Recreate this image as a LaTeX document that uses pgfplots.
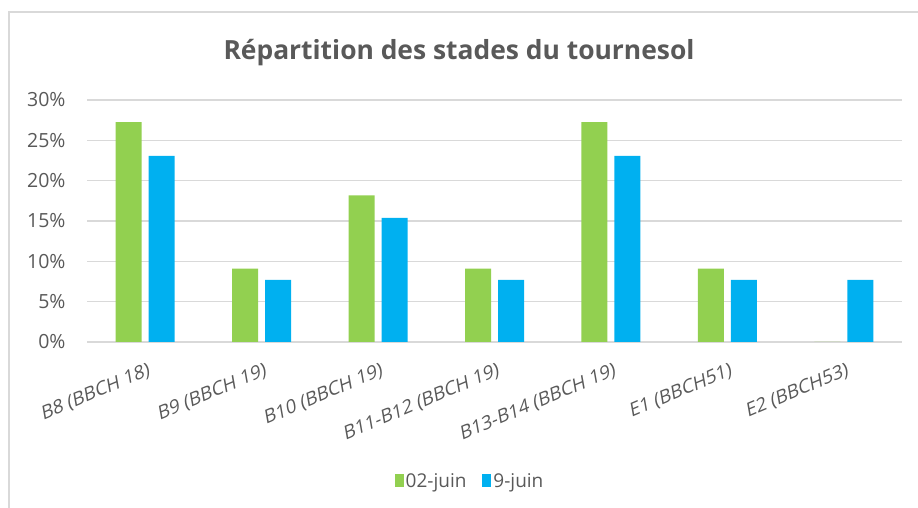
\documentclass[border=0pt]{standalone}
\usepackage{pgfplots}
\pgfplotsset{compat=1.18}
\usepackage{fontspec}
\setmainfont{Open Sans}
\definecolor{cgreen}{HTML}{92D050}
\definecolor{cblue}{HTML}{00B0F0}
\definecolor{ctext}{HTML}{595959}
\definecolor{cgrid}{HTML}{D9D9D9}
\begin{document}
\begin{tikzpicture}[x=1pt,y=1pt]
\path[use as bounding box] (0,0) rectangle (918,508);
\draw[cgrid, line width=1.2pt] (9,0) -- (9,496) -- (918,496);
\node[text=ctext, font=\bfseries\fontsize{26.4}{30}\selectfont] at (459,455) {Répartition des stades du tournesol};
\begin{axis}[
  at={(87pt,166pt)}, anchor=south west,
  scale only axis, width=815pt, height=242pt,
  xmin=-0.5, xmax=6.5, ymin=0, ymax=30,
  ytick={0,5,...,30},
  yticklabel={\pgfmathprintnumber{\tick}\%},
  /pgf/number format/assume math mode=true,
  xtick={0,...,6},
  xticklabels={B8 (BBCH 18),B9 (BBCH 19),B10 (BBCH 19),B11-B12 (BBCH 19),B13-B14 (BBCH 19),E1 (BBCH51),E2 (BBCH53)},
  xticklabel style={cm={0.921,0.391,-0.174,0.985,(0,0)}, anchor=north east, font=\fontsize{19}{21}\selectfont, text=ctext, yshift=-16pt, xshift=3pt},
  yticklabel style={font=\fontsize{19.5}{21}\selectfont, text=ctext, xshift=-18pt},
  major tick length=0pt,
  ymajorgrids, grid style={cgrid, line width=1.2pt},
  axis x line*=bottom, axis y line*=left,
  x axis line style={cgrid, line width=1.2pt, -},
  y axis line style={draw=none},
  ybar, bar width=26pt,
  legend style={at={(0.47,-0.574)}, anchor=center, draw=none, legend columns=2, font=\fontsize{19}{21}\selectfont, text=ctext, /tikz/every even column/.append style={column sep=14pt}},
  legend image code/.code={\draw[#1, draw=none] (0pt,-6pt) rectangle (9pt,7pt);},
]
\addplot[fill=cgreen, draw=none, bar shift=-16.5pt] coordinates {(0,27.27) (1,9.09) (2,18.18) (3,9.09) (4,27.27) (5,9.09) (6,0)};
\addplot[fill=cblue, draw=none, bar shift=16.5pt] coordinates {(0,23.08) (1,7.69) (2,15.38) (3,7.69) (4,23.08) (5,7.69) (6,7.69)};
\legend{02-juin, 9-juin}
\end{axis}
\end{tikzpicture}
\end{document}
